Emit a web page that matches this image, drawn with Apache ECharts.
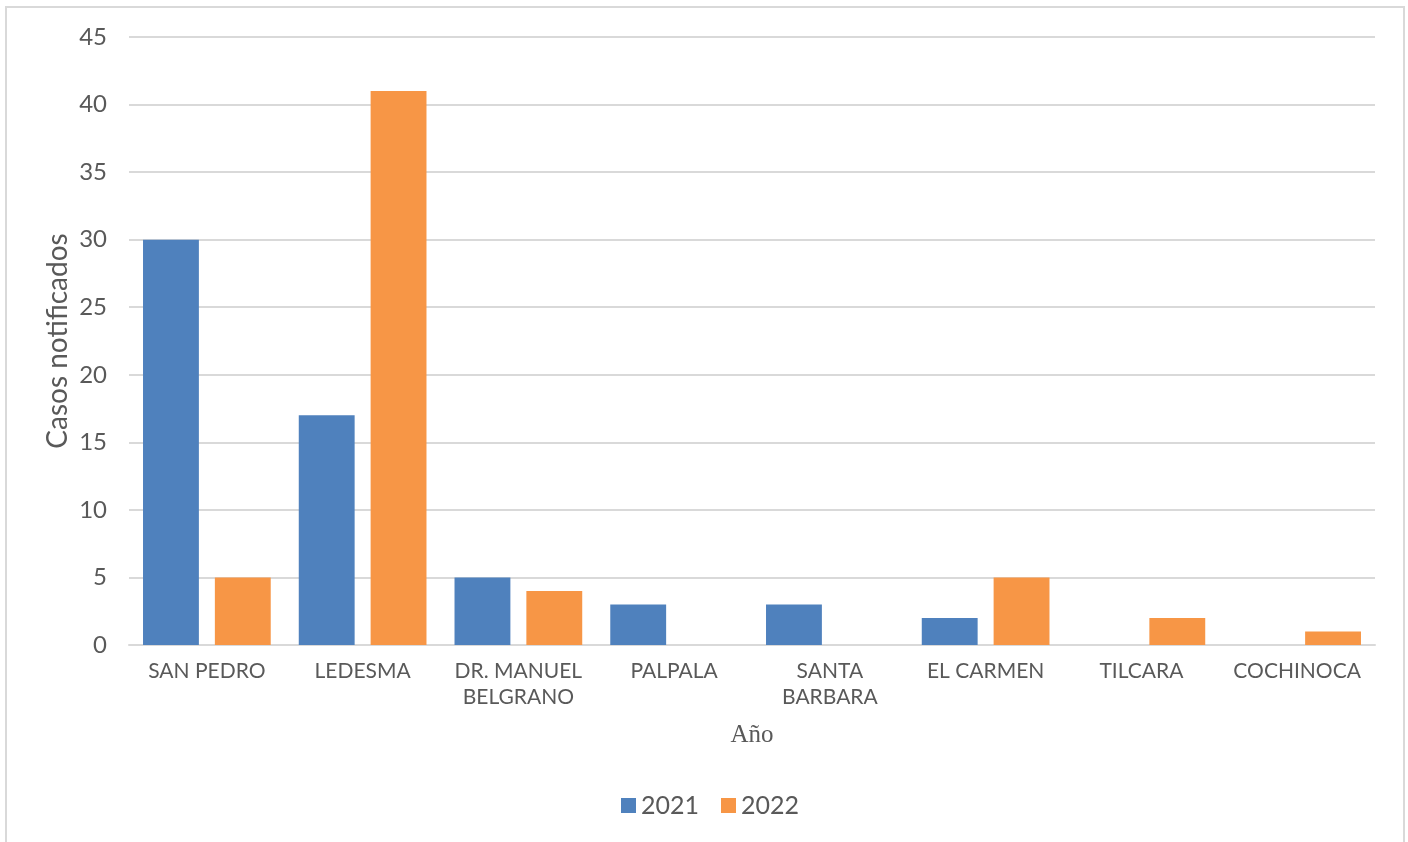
<!DOCTYPE html>
<html>
<head>
<meta charset="utf-8">
<script src="https://cdn.jsdelivr.net/npm/echarts@6/dist/echarts.min.js"></script>
<style>
  html, body { margin: 0; padding: 0; background: #ffffff; }
  #chart { width: 1408px; height: 842px; }
</style>
</head>
<body>
<div id="chart"></div>
<script>
// Departamentos y casos notificados por año
const categories = ['SAN PEDRO', 'LEDESMA', 'DR. MANUEL\nBELGRANO', 'PALPALA', 'SANTA\nBARBARA', 'EL CARMEN', 'TILCARA', 'COCHINOCA'];
const casos2021 = [30, 17, 5, 3, 3, 2, 0, 0];
const casos2022 = [5, 41, 4, 0, 0, 5, 2, 1];
const seriesNames = ['2021', '2022'];
const yTicks = { min: 0, max: 45, interval: 5 };
const yTitle = 'Casos notificados';

const labelFont = 'Lato, "Open Sans", sans-serif';
const textGray = '#595959';
const gridGray = '#d9d9d9';

const chart = echarts.init(document.getElementById('chart'), null, { renderer: 'canvas' });

chart.setOption({
  backgroundColor: '#ffffff',
  animation: false,
  graphic: [
    {
      type: 'rect',
      shape: { x: 6, y: 7, width: 1398, height: 900 },
      style: { fill: 'none', stroke: gridGray, lineWidth: 2 },
      z: -1
    },
    {
      // vertical axis title, rotated beside the value labels
      type: 'text',
      x: 58,
      y: 341,
      rotation: Math.PI / 2,
      style: {
        text: yTitle,
        font: '28px ' + labelFont,
        fill: textGray,
        align: 'center',
        verticalAlign: 'middle'
      }
    }
  ],
  grid: { left: 129, right: 33, top: 37, bottom: 197 },
  legend: {
    data: seriesNames,
    bottom: 19,
    left: 616,
    icon: 'rect',
    itemWidth: 15,
    itemHeight: 15,
    itemGap: 22,
    textStyle: { fontFamily: labelFont, fontSize: 25, color: textGray }
  },
  xAxis: {
    type: 'category',
    data: categories,
    name: 'Año',
    nameLocation: 'middle',
    nameGap: 78,
    nameTextStyle: { fontFamily: '"Liberation Serif", "DejaVu Serif", serif', fontSize: 25, color: textGray },
    axisLine: { lineStyle: { color: gridGray, width: 2 } },
    axisTick: { show: false },
    axisLabel: {
      fontFamily: labelFont, fontSize: 21, color: textGray,
      margin: 13, lineHeight: 26, interval: 0
    }
  },
  yAxis: {
    type: 'value',
    min: yTicks.min,
    max: yTicks.max,
    interval: yTicks.interval,
    axisLine: { show: false },
    axisTick: { show: false },
    axisLabel: { fontFamily: labelFont, fontSize: 24, color: textGray, margin: 22 },
    splitLine: { lineStyle: { color: gridGray, width: 2 } }
  },
  series: [
    {
      name: seriesNames[0], type: 'bar', data: casos2021,
      itemStyle: { color: '#4f81bd' },
      barGap: '28.6%', barCategoryGap: '18%'
    },
    {
      name: seriesNames[1], type: 'bar', data: casos2022,
      itemStyle: { color: '#f79646' },
      barGap: '28.6%', barCategoryGap: '18%'
    }
  ]
});
</script>
</body>
</html>
